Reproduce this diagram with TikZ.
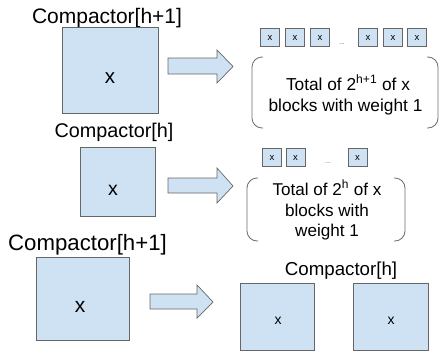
\documentclass[tikz,border=0pt]{standalone}
\usepackage{fontspec}
\setmainfont{Liberation Sans}
\definecolor{boxfill}{HTML}{CFE2F3}
\definecolor{edge}{HTML}{666666}
\definecolor{brk}{HTML}{6B6B6B}
\begin{document}
\begin{tikzpicture}[x=1pt,y=-1pt,
  bigbox/.style={draw=edge,fill=boxfill,line width=0.8pt},
  smallbox/.style={draw=edge,fill=boxfill,line width=0.7pt,minimum width=19pt,minimum height=18.5pt,inner sep=0pt,font=\fontsize{9.5}{10}\selectfont},
  blockarrow/.style={draw=edge,fill=boxfill,line width=0.7pt,line join=miter},
  bracketline/.style={draw=brk,line width=0.8pt,rounded corners=10pt},
  lbl/.style={anchor=base,inner sep=0pt},
  dots/.style={anchor=base,inner sep=0pt,text=black!60,font=\fontsize{7}{8}\selectfont}]
\useasboundingbox (0,0) rectangle (439,351);

% ---------- row 1 ----------
\node[lbl,font=\fontsize{21}{24}\selectfont] (t1) at (107,23) {Compactor[h+1]};
\draw[bigbox] (62,27) rectangle (158,113);
\node[lbl,font=\fontsize{20.5}{24}\selectfont] (x1) at (110,83) {x};
\draw[blockarrow] (168,58) -- (217,58) -- (217,50) -- (233,66.5) -- (217,83) -- (217,74) -- (168,74) -- cycle;
\foreach \i/\cx in {1/270,2/295,3/320,4/368,5/393,6/417}{
  \node[smallbox] (a\i) at (\cx,37.5) {x};
}
\node[dots] (d1) at (342,44) {...};
\draw[bracketline] (263,57) -- (252,57) -- (252,128) -- (263,128);
\draw[bracketline] (427,57) -- (438,57) -- (438,128) -- (427,128);
\node[lbl,font=\fontsize{17.3}{20}\selectfont] (p1) at (348,90) {Total of 2\textsuperscript{h+1} of x};
\node[lbl,font=\fontsize{17.3}{20}\selectfont] (p2) at (345.5,111) {blocks with weight 1};

% ---------- row 2 ----------
\node[lbl,font=\fontsize{19.8}{24}\selectfont] (t2) at (114,137) {Compactor[h]};
\draw[bigbox] (80,147) rectangle (155,216);
\node[lbl,font=\fontsize{19.5}{24}\selectfont] (x2) at (113,195) {x};
\draw[blockarrow] (168,178) -- (217,178) -- (217,168) -- (233,186) -- (217,203) -- (217,193) -- (168,193) -- cycle;
\foreach \i/\cx in {1/272,2/295.5,3/357.5}{
  \node[smallbox] (b\i) at (\cx,157.5) {x};
}
\node[dots] (d2) at (328,163.5) {...};
\draw[bracketline] (258,178) -- (247,178) -- (247,241) -- (258,241);
\draw[bracketline] (394,178) -- (405,178) -- (405,241) -- (394,241);
\node[lbl,font=\fontsize{17.1}{20}\selectfont] (q1) at (327,195) {Total of 2\textsuperscript{h} of x};
\node[lbl,font=\fontsize{17.1}{20}\selectfont] (q2) at (327,216.5) {blocks with};
\node[lbl,font=\fontsize{17.1}{20}\selectfont] (q3) at (327,236.5) {weight 1};

% ---------- row 3 ----------
\node[lbl,font=\fontsize{22.2}{26}\selectfont] (t3) at (87.5,250) {Compactor[h+1]};
\draw[bigbox] (36,257) rectangle (129,340);
\node[lbl,font=\fontsize{21}{24}\selectfont] (x3) at (80,312) {x};
\draw[blockarrow] (150,294) -- (197,294) -- (197,285) -- (213,302) -- (197,318) -- (197,309) -- (150,309) -- cycle;
\node[lbl,font=\fontsize{18.7}{22}\selectfont] (t4) at (341,275) {Compactor[h]};
\draw[bigbox] (240,283) rectangle (314,350);
\draw[bigbox] (353,283) rectangle (428,350);
\node[lbl,font=\fontsize{14}{16}\selectfont] (x4) at (278,324) {x};
\node[lbl,font=\fontsize{14}{16}\selectfont] (x5) at (391,324) {x};
\end{tikzpicture}
\end{document}
